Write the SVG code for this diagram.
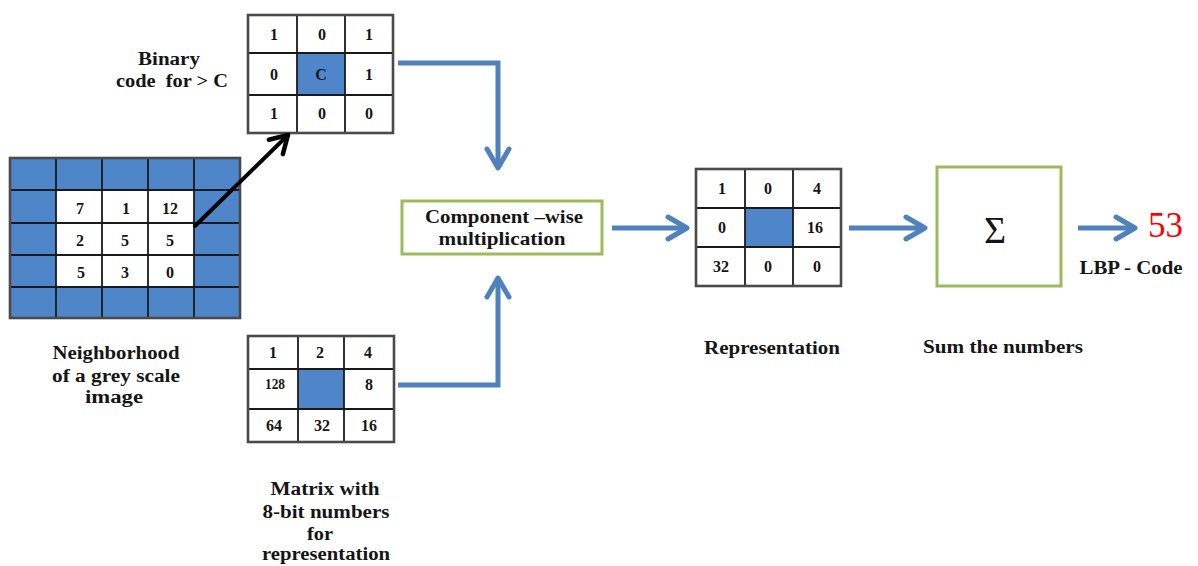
<svg xmlns="http://www.w3.org/2000/svg" width="1198" height="566" viewBox="0 0 1198 566">
  <style>
    text { font-family: "Liberation Serif", "Times New Roman", serif; fill: #151515; }
    .lbl { font-size: 18px; font-weight: bold; text-anchor: middle; }
    .num { font-size: 16px; font-weight: bold; text-anchor: middle; }
    .cellbg { fill: #ffffff; }
    .hole { fill: #4f85c9; }
    .outer { fill: none; stroke: #4a4a4a; stroke-width: 2.6; }
    .inner { stroke: #1a1a1a; stroke-width: 1.8; }
    .box { fill: #ffffff; stroke: #9bbb59; stroke-width: 3; }
    .flow { fill: none; stroke: #4f81bd; stroke-width: 5; }
    .link { fill: none; stroke: #000000; stroke-width: 4; stroke-linecap: round; }
  </style>
  <defs>
    <marker id="chev" markerUnits="userSpaceOnUse" markerWidth="30" markerHeight="30" refX="0" refY="0" orient="auto" overflow="visible">
      <path d="M-19,-11 L0,0 L-19,11" fill="none" stroke="#4f81bd" stroke-width="5" stroke-linecap="round" stroke-linejoin="round"/>
    </marker>
    <marker id="chevDark" markerUnits="userSpaceOnUse" markerWidth="30" markerHeight="30" refX="0" refY="0" orient="auto" overflow="visible">
      <path d="M-17,-10 L0,0 L-17,10" fill="none" stroke="#000000" stroke-width="4.5" stroke-linecap="round" stroke-linejoin="round"/>
    </marker>
  </defs>

  <rect width="1198" height="566" fill="#ffffff"/>

  <!-- 5x5 neighbourhood of grey values -->
  <g id="neighborhood">
    <rect x="10" y="158" width="230" height="160" class="hole"/>
    <rect x="56" y="190" width="138" height="96" class="cellbg"/>
    <g class="inner">
      <line x1="56" y1="158" x2="56" y2="318"/>
      <line x1="102" y1="158" x2="102" y2="318"/>
      <line x1="148" y1="158" x2="148" y2="318"/>
      <line x1="194" y1="158" x2="194" y2="318"/>
      <line x1="10" y1="190" x2="240" y2="190"/>
      <line x1="10" y1="223" x2="240" y2="223"/>
      <line x1="10" y1="255" x2="240" y2="255"/>
      <line x1="10" y1="287" x2="240" y2="287"/>
    </g>
    <rect x="10" y="158" width="230" height="160" class="outer"/>
    <text class="num" x="80" y="214">7</text>
    <text class="num" x="126" y="214">1</text>
    <text class="num" x="170" y="214">12</text>
    <text class="num" x="80" y="246">2</text>
    <text class="num" x="125" y="246">5</text>
    <text class="num" x="170" y="246">5</text>
    <text class="num" x="81" y="278">5</text>
    <text class="num" x="125" y="278">3</text>
    <text class="num" x="170" y="278">0</text>
    <text class="lbl" x="116" y="359" textLength="127" lengthAdjust="spacingAndGlyphs">Neighborhood</text>
    <text class="lbl" x="116" y="382" textLength="128" lengthAdjust="spacingAndGlyphs">of a grey scale</text>
    <text class="lbl" x="114" y="403" textLength="58" lengthAdjust="spacingAndGlyphs">image</text>
  </g>

  <!-- thresholded binary pattern -->
  <g id="binary-code">
    <rect x="248" y="15" width="145" height="118" class="cellbg"/>
    <rect x="297" y="53" width="48" height="42" class="hole"/>
    <g class="inner">
      <line x1="297" y1="15" x2="297" y2="133"/>
      <line x1="345" y1="15" x2="345" y2="133"/>
      <line x1="248" y1="53" x2="393" y2="53"/>
      <line x1="248" y1="95" x2="393" y2="95"/>
    </g>
    <rect x="248" y="15" width="145" height="118" class="outer"/>
    <text class="num" x="274" y="40">1</text>
    <text class="num" x="322" y="40">0</text>
    <text class="num" x="369" y="40">1</text>
    <text class="num" x="274" y="80">0</text>
    <text class="num" x="321" y="80">C</text>
    <text class="num" x="369" y="80">1</text>
    <text class="num" x="274" y="119">1</text>
    <text class="num" x="322" y="119">0</text>
    <text class="num" x="369" y="119">0</text>
    <text class="lbl" x="169" y="65" textLength="62" lengthAdjust="spacingAndGlyphs">Binary</text>
    <text class="lbl" x="172" y="87" textLength="112" lengthAdjust="spacingAndGlyphs" xml:space="preserve">code  for &gt; C</text>
  </g>

  <!-- weights for each neighbour position -->
  <g id="weights">
    <rect x="248" y="336" width="146" height="106" class="cellbg"/>
    <rect x="298" y="369" width="46" height="40" class="hole"/>
    <g class="inner">
      <line x1="298" y1="336" x2="298" y2="442"/>
      <line x1="344" y1="336" x2="344" y2="442"/>
      <line x1="248" y1="369" x2="394" y2="369"/>
      <line x1="248" y1="409" x2="394" y2="409"/>
    </g>
    <rect x="248" y="336" width="146" height="106" class="outer"/>
    <text class="num" x="273" y="358">1</text>
    <text class="num" x="320" y="358">2</text>
    <text class="num" x="368" y="358">4</text>
    <text class="num" x="275" y="389" style="font-size:15px" textLength="20" lengthAdjust="spacingAndGlyphs">128</text>
    <text class="num" x="369" y="390">8</text>
    <text class="num" x="274" y="431">64</text>
    <text class="num" x="322" y="431">32</text>
    <text class="num" x="369" y="431">16</text>
    <text class="lbl" x="325" y="495" textLength="109" lengthAdjust="spacingAndGlyphs">Matrix with</text>
    <text class="lbl" x="326" y="518" textLength="127" lengthAdjust="spacingAndGlyphs">8-bit numbers</text>
    <text class="lbl" x="320" y="540" textLength="26" lengthAdjust="spacingAndGlyphs">for</text>
    <text class="lbl" x="326" y="560" textLength="128" lengthAdjust="spacingAndGlyphs">representation</text>
  </g>

  <!-- element-wise product step -->
  <g id="multiply">
    <rect x="402" y="201" width="200" height="53" class="box"/>
    <text class="lbl" x="504" y="223" textLength="158" lengthAdjust="spacingAndGlyphs">Component –wise</text>
    <text class="lbl" x="502" y="245" textLength="127" lengthAdjust="spacingAndGlyphs">multiplication</text>
  </g>

  <!-- weighted pattern -->
  <g id="representation">
    <rect x="696" y="169" width="145" height="117" class="cellbg"/>
    <rect x="745" y="208" width="48" height="39" class="hole"/>
    <g class="inner">
      <line x1="745" y1="169" x2="745" y2="286"/>
      <line x1="793" y1="169" x2="793" y2="286"/>
      <line x1="696" y1="208" x2="841" y2="208"/>
      <line x1="696" y1="247" x2="841" y2="247"/>
    </g>
    <rect x="696" y="169" width="145" height="117" class="outer"/>
    <text class="num" x="722" y="194">1</text>
    <text class="num" x="768" y="194">0</text>
    <text class="num" x="817" y="194">4</text>
    <text class="num" x="722" y="233">0</text>
    <text class="num" x="815" y="233">16</text>
    <text class="num" x="721" y="272">32</text>
    <text class="num" x="768" y="272">0</text>
    <text class="num" x="817" y="272">0</text>
    <text class="lbl" x="772" y="354" textLength="136" lengthAdjust="spacingAndGlyphs">Representation</text>
  </g>

  <!-- summation step -->
  <g id="sum">
    <rect x="937" y="167" width="124" height="119" class="box"/>
    <text x="995" y="243" text-anchor="middle" style="font-size:38px">Σ</text>
    <text class="lbl" x="1003" y="353" textLength="160" lengthAdjust="spacingAndGlyphs">Sum the numbers</text>
  </g>

  <!-- resulting code -->
  <g id="result">
    <text x="1148" y="237" style="font-size:35px; fill:#ff0000">53</text>
    <text class="lbl" x="1131" y="274" textLength="103" lengthAdjust="spacingAndGlyphs">LBP - Code</text>
  </g>

  <g id="connectors">
    <line class="link" x1="195" y1="226" x2="288" y2="135" marker-end="url(#chevDark)"/>
    <path class="flow" d="M398,63 H498 V168" marker-end="url(#chev)"/>
    <path class="flow" d="M398,385 H498 V278" marker-end="url(#chev)"/>
    <path class="flow" d="M612,228 H687" marker-end="url(#chev)"/>
    <path class="flow" d="M849,228 H925" marker-end="url(#chev)"/>
    <path class="flow" d="M1078,228 H1135" marker-end="url(#chev)"/>
  </g>
</svg>
